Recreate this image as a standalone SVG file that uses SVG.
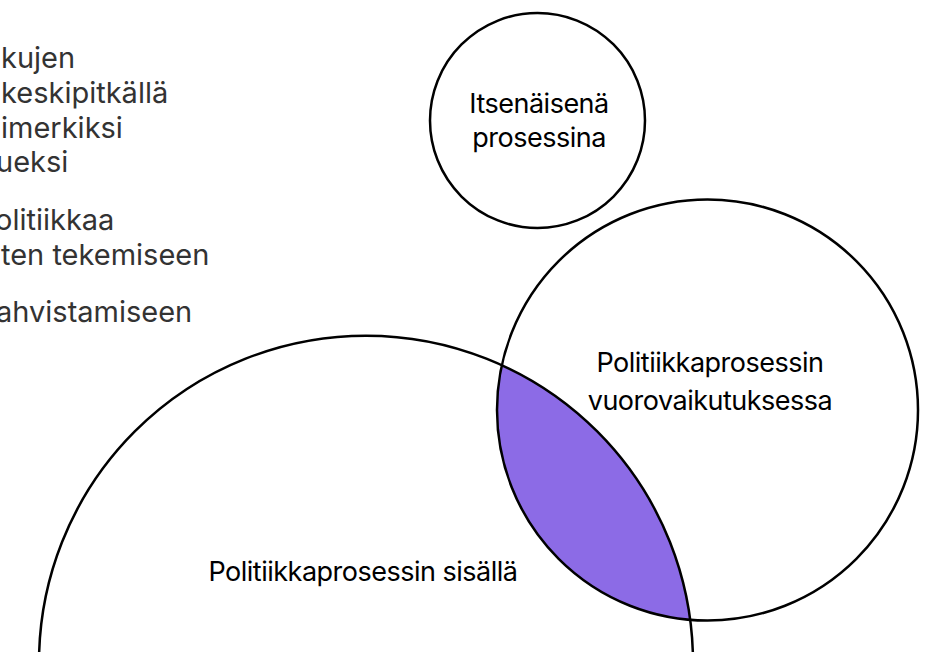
<svg xmlns="http://www.w3.org/2000/svg" width="932" height="652" viewBox="0 0 932 652">
<style>
.bg{fill:#ffffff}
.ring{fill:none;stroke:#000;stroke-width:2.5}
.lens{fill:#8c6be6;stroke:none}
.lbl{font-family:Inter,"Liberation Sans",sans-serif;font-size:27px;fill:#000;letter-spacing:-0.5px;text-anchor:middle}
.side{font-family:Inter,"Liberation Sans",sans-serif;font-size:29px;fill:#333333}
</style>
<rect class="bg" x="0" y="0" width="932" height="652"/>
<g id="side-text">
<text class="side" x="1" y="68">kujen</text>
<text class="side" x="1" y="103">keskipitkällä</text>
<text class="side" x="1" y="138">imerkiksi</text>
<text class="side" x="-4" y="172">ueksi</text>
<text class="side" x="-5" y="230">olitiikkaa</text>
<text class="side" x="1" y="265">ten tekemiseen</text>
<text class="side" x="-4" y="322">ahvistamiseen</text>
</g>
<g id="overlap">
<path class="lens" d="M501.8 365.2 A327 327 0 0 1 690.2 619.8 A210.5 210.5 0 0 1 501.8 365.2 Z"/>
</g>
<g id="node-inside">
<circle class="ring" cx="366" cy="662.7" r="327"/>
<text class="lbl" x="363" y="581">Politiikkaprosessin sisällä</text>
</g>
<g id="node-interaction">
<circle class="ring" cx="707.5" cy="410" r="210.5"/>
<text class="lbl" x="710" y="372">Politiikkaprosessin</text>
<text class="lbl" x="710" y="410">vuorovaikutuksessa</text>
</g>
<g id="node-independent">
<circle class="ring" cx="537.5" cy="120.5" r="107.5"/>
<text class="lbl" x="539" y="113">Itsenäisenä</text>
<text class="lbl" x="539" y="147">prosessina</text>
</g>
<g id="connectors"></g>
</svg>
